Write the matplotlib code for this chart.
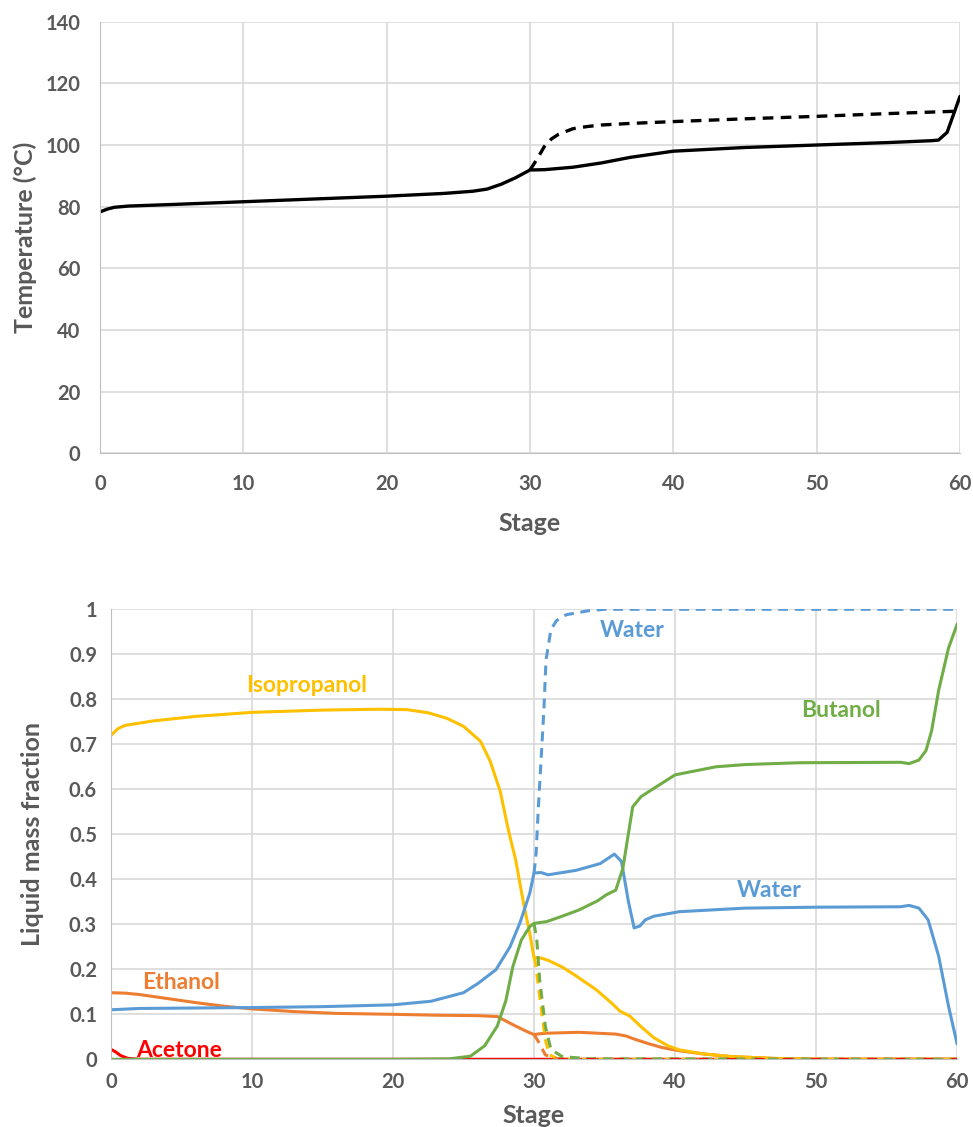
import matplotlib.pyplot as plt

plt.rcParams['font.family'] = ['Lato', 'DejaVu Sans']
plt.rcParams['font.weight'] = 'bold'

# ---- top: temperature profile
t_stage = [0, 0.5, 1, 2, 5, 10, 15, 20, 24, 26, 27, 28, 29, 30, 31, 33, 35, 37, 40, 45,
           50, 55, 58, 58.5, 59.1, 59.6, 60]
t_temp = [78.3, 79.2, 79.8, 80.2, 80.7, 81.6, 82.5, 83.4, 84.3, 85.0, 85.7, 87.3, 89.4,
          91.9, 92.0, 92.8, 94.2, 96.0, 98.0, 99.2, 100.0, 100.8, 101.4, 101.6, 104.1,
          110.6, 115.8]
t_stage_d = [30, 30.5, 31, 31.5, 32, 33, 34, 35, 37, 40, 45, 50, 55, 60]
t_temp_d = [91.9, 95.5, 99.5, 102.0, 103.5, 105.3, 106.0, 106.5, 107.0, 107.6, 108.5,
            109.3, 110.2, 111.0]

# ---- bottom: liquid mass fractions
ipa_x = [0, 0.5, 1, 3, 6, 10, 15, 19, 21, 22.5, 23.8, 25, 26.2, 26.9, 27.6, 28.2, 28.7,
         29.3, 29.7, 30, 30.5, 31, 32, 33, 34.4, 35.5, 36.1, 36.8, 37.5, 38.5, 39.5, 40.3,
         42, 44, 47, 50, 60]
ipa_y = [0.72, 0.735, 0.742, 0.752, 0.762, 0.771, 0.776, 0.778, 0.777, 0.77, 0.758, 0.74,
         0.707, 0.662, 0.596, 0.507, 0.443, 0.34, 0.28, 0.226, 0.225, 0.22, 0.205, 0.185,
         0.155, 0.125, 0.107, 0.096, 0.075, 0.048, 0.03, 0.021, 0.012, 0.006, 0.002, 0.0,
         0.0]
ipa_xd = [30, 30.1, 30.4, 30.8, 31.1, 31.6, 32.5, 60]
ipa_yd = [0.226, 0.215, 0.14, 0.044, 0.01, 0.002, 0.0, 0.0]

wat_x = [0, 2, 10, 15, 20, 22.7, 25, 26, 27.3, 28.3, 29, 29.7, 30, 30.5, 31, 33, 34.7,
         35.7, 36.2, 36.7, 37.1, 37.5, 37.9, 38.5, 40.3, 45, 50, 56, 56.6, 57.3, 57.95,
         58.7, 59.4, 60]
wat_y = [0.11, 0.113, 0.115, 0.117, 0.121, 0.129, 0.148, 0.168, 0.199, 0.25, 0.303, 0.369,
         0.414, 0.415, 0.41, 0.42, 0.435, 0.456, 0.44, 0.35, 0.292, 0.296, 0.31, 0.318,
         0.328, 0.336, 0.338, 0.339, 0.342, 0.336, 0.31, 0.229, 0.118, 0.035]
wat_xd = [30, 30.15, 30.3, 30.5, 30.7, 30.85, 31.2, 31.6, 32.3, 33.9, 35, 60]
wat_yd = [0.414, 0.458, 0.554, 0.665, 0.776, 0.887, 0.955, 0.975, 0.988, 0.997, 1.0, 1.0]

but_x = [0, 20, 24, 25.5, 26.5, 27.4, 28, 28.5, 29.1, 29.7, 30, 30.9, 32, 33.2, 34.5,
         35.1, 35.8, 36.3, 37.0, 37.6, 38.3, 40, 42.9, 45, 48.8, 56, 56.6, 57.3, 57.8,
         58.2, 58.7, 59.4, 60]
but_y = [0.0, 0.0, 0.001, 0.007, 0.03, 0.074, 0.13, 0.206, 0.265, 0.295, 0.302, 0.306,
         0.318, 0.332, 0.352, 0.365, 0.376, 0.424, 0.561, 0.584, 0.598, 0.632, 0.65, 0.655,
         0.659, 0.66, 0.657, 0.665, 0.686, 0.73, 0.82, 0.914, 0.966]
but_xd = [30, 30.2, 30.4, 30.8, 31.2, 32, 34, 60]
but_yd = [0.302, 0.265, 0.177, 0.074, 0.022, 0.006, 0.001, 0.0]

eth_x = [0, 1, 2, 4, 6, 8, 10, 13, 16, 20, 23, 26, 27.4, 28.5, 29.4, 30, 30.5, 30.9,
         33.2, 35.8, 36.5, 37.2, 38.2, 39.1, 40.3, 42, 44, 47, 50, 60]
eth_y = [0.148, 0.147, 0.144, 0.135, 0.126, 0.118, 0.112, 0.106, 0.102, 0.1, 0.098, 0.097,
         0.095, 0.077, 0.063, 0.055, 0.057, 0.058, 0.06, 0.056, 0.052, 0.044, 0.034, 0.026,
         0.019, 0.012, 0.006, 0.002, 0.0, 0.0]
eth_xd = [30, 30.3, 30.8, 31.5, 32.5, 60]
eth_yd = [0.055, 0.04, 0.01, 0.002, 0.0, 0.0]

ace_x = [0, 0.3, 0.7, 1.2, 2, 60]
ace_y = [0.022, 0.017, 0.008, 0.002, 0.0, 0.0]
ace_xd = [30, 60]
ace_yd = [0.0, 0.0]

labels = ['Isopropanol', 'Water', 'Butanol', 'Water', 'Ethanol', 'Acetone']
label_x = [13.9, 37.0, 51.8, 46.7, 5.0, 4.8]
label_y = [0.83, 0.953, 0.774, 0.376, 0.17, 0.02]

c_ipa, c_wat, c_but, c_eth, c_ace = '#FFC000', '#5B9BD5', '#70AD47', '#ED7D31', '#FF0000'
label_c = [c_ipa, c_wat, c_but, c_wat, c_eth, c_ace]

grey = '#595959'
grid = '#D9D9D9'
dash = (0, (3.2, 2.2))

fig = plt.figure(figsize=(9.73, 11.27), dpi=100)
ax1 = fig.add_axes([100/973, 1 - 453.3/1127, 860/973, 431.6/1127])
ax2 = fig.add_axes([111/973, 1 - 1059.3/1127, 846/973, 450/1127])


def style(ax, xpad, ypad):
    for s in ['top', 'right']:
        ax.spines[s].set_visible(False)
    ax.spines['left'].set_color('#BFBFBF')
    ax.spines['bottom'].set_color('#BFBFBF')
    ax.grid(True, color=grid, linewidth=1.2)
    ax.set_axisbelow(True)
    ax.tick_params(length=0, labelsize=14.5, labelcolor=grey)
    ax.tick_params(axis='x', pad=xpad)
    ax.tick_params(axis='y', pad=ypad)
    for lab in ax.get_xticklabels() + ax.get_yticklabels():
        lab.set_fontweight('bold')


ax1.plot(t_stage, t_temp, color='black', linewidth=2.4, solid_capstyle='round')
ax1.plot(t_stage_d, t_temp_d, color='black', linewidth=2.4, linestyle=dash)
ax1.set_xlim(0, 60)
ax1.set_ylim(0, 140)
ax1.set_xticks(range(0, 61, 10))
ax1.set_yticks(range(0, 141, 20))
style(ax1, 15, 14)
ax1.set_xlabel('Stage', fontsize=18, color=grey, fontweight='bold', labelpad=13)
ax1.set_ylabel('Temperature (°C)', fontsize=18, color=grey, fontweight='bold', labelpad=6)

lw = 2.2
ax2.plot(ace_x, ace_y, color=c_ace, linewidth=lw)
ax2.plot(eth_x, eth_y, color=c_eth, linewidth=lw)
ax2.plot(ipa_x, ipa_y, color=c_ipa, linewidth=lw)
ax2.plot(wat_x, wat_y, color=c_wat, linewidth=lw)
ax2.plot(but_x, but_y, color=c_but, linewidth=lw)
ax2.plot(wat_xd, wat_yd, color=c_wat, linewidth=lw, linestyle=dash)
ax2.plot(ipa_xd, ipa_yd, color=c_ipa, linewidth=lw, linestyle=dash)
ax2.plot(eth_xd, eth_yd, color=c_eth, linewidth=lw, linestyle=dash)
ax2.plot(but_xd, but_yd, color=c_but, linewidth=lw, linestyle=dash)
ax2.plot(ace_xd, ace_yd, color=c_ace, linewidth=lw, linestyle=(1.5, (3.2, 6)))
ax2.set_xlim(0, 60)
ax2.set_ylim(0, 1)
ax2.set_xticks(range(0, 61, 10))
ax2.set_yticks([i / 10 for i in range(11)])
ax2.set_yticklabels(['0', '0.1', '0.2', '0.3', '0.4', '0.5', '0.6', '0.7', '0.8', '0.9', '1'])
style(ax2, 9, 10)
ax2.set_xlabel('Stage', fontsize=18, color=grey, fontweight='bold', labelpad=9)
ax2.set_ylabel('Liquid mass fraction', fontsize=18, color=grey, fontweight='bold', labelpad=18)

for txt, x, y, c in zip(labels, label_x, label_y, label_c):
    ax2.text(x, y, txt, color=c, fontsize=16.5, fontweight='bold', ha='center', va='center')

fig.savefig('out.png', dpi=100)
